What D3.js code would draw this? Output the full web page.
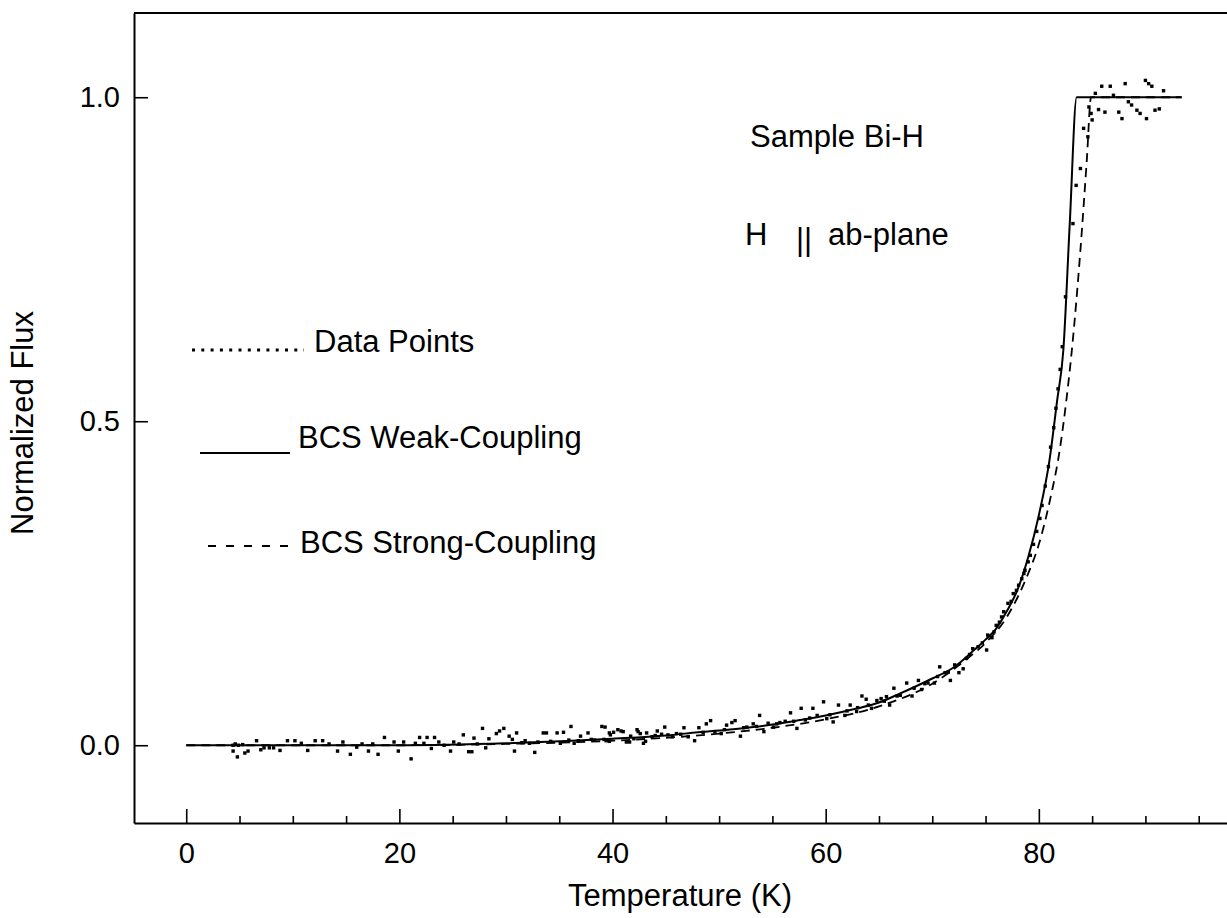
<!DOCTYPE html>
<head>
<meta charset="utf-8">
<style>
body { margin: 0; background: white; }
svg text { font-family: "Liberation Sans", Arial, Helvetica, sans-serif; fill: black; }
.axis path, .axis line { stroke: black; }
.axis path { stroke-width: 2px; }
.axis line { stroke-width: 1.6px; }
</style>
</head>
<body>
<div id="mainDiv" style="width: 1227px; height: 918px; background-color: white;">
<script src="https://d3js.org/d3.v7.min.js"></script>
<script>

var width = 1227;
var height = 918;

// axis ticks
var xMajorTicks = [0, 20, 40, 60, 80];
var xMinorTicks = [5, 10, 15, 25, 30, 35, 45, 50, 55, 65, 70, 75, 85, 90, 95];
var yTicks = [0, 0.5, 1.0];

// BCS weak coupling fit (solid)
var weakCoupling = [[0, 0], [20, 0], [30, 0.003], [40, 0.01], [45, 0.015], [48, 0.02], [52, 0.026],
  [55, 0.032], [57.6, 0.039], [60, 0.046], [63, 0.057], [65, 0.066], [67, 0.08], [70, 0.103],
  [72, 0.12], [74, 0.148], [75, 0.163], [76, 0.18], [77, 0.207], [78, 0.24], [79, 0.29],
  [80, 0.355], [81, 0.44], [81.7, 0.53], [82.3, 0.61], [82.9, 0.805], [83.55, 1.0], [93.4, 1.0]];

// BCS strong coupling fit (dashed)
var strongCoupling = [[0, 0], [20, 0], [30, 0.002], [40, 0.007], [50, 0.018], [55, 0.027],
  [60, 0.04], [65, 0.06], [70, 0.095], [73, 0.13], [75, 0.158], [77, 0.198], [78, 0.228],
  [79, 0.265], [80, 0.31], [81, 0.375], [82, 0.46], [82.6, 0.535], [83.1, 0.61], [83.9, 0.764],
  [84.5, 0.903], [84.9, 1.0], [93.4, 1.0]];

// measured points
var dataPoints = [[4.4, 0], [4.6, 0.002], [4.9, 0], [5.3, 0.001], [4.4, -0.009], [4.8, -0.018],
  [5.5, -0.012], [5.8, -0.009], [6.6, 0.007], [7.0, -0.007], [7.3, -0.004], [7.8, -0.004],
  [8.2, -0.004], [8.8, -0.008], [9.5, 0.007], [10.2, 0.007], [10.8, 0.003], [11.4, -0.008],
  [12.1, 0.007], [12.8, 0.007], [13.4, 0.002], [14.2, -0.009], [14.7, 0.005], [15.4, -0.014],
  [16.0, -0.003], [16.5, 0.002], [17.1, -0.009], [17.5, 0.002], [18.0, -0.014], [18.6, 0.012],
  [19.5, 0.005], [19.9, -0.009], [20.4, 0.005], [21.1, -0.021], [21.5, 0.003], [21.9, 0.012],
  [22.3, 0.003], [22.6, 0.012], [23.0, -0.005], [23.3, 0.012], [23.7, 0.005], [24.2, 0.0],
  [24.8, -0.009], [25.1, 0.005], [25.6, 0.002], [26.0, 0.016], [26.5, -0.01], [26.8, -0.01],
  [27.0, 0.011], [27.3, 0.002], [27.8, 0.026], [28.1, -0.004], [28.4, 0.01], [29.1, 0.018],
  [29.4, 0.022], [29.8, 0.026], [30.3, 0.014], [30.6, 0.009], [30.8, -0.009], [31.0, 0.019],
  [31.5, 0.004], [31.8, 0.007], [32.2, 0.003], [32.7, -0.011], [33.0, 0.005], [33.5, 0.019],
  [33.8, 0.019], [34.2, 0.006], [34.8, 0.019], [35.1, 0.003], [35.4, 0.02], [35.9, 0.008],
  [36.1, 0.029], [36.4, 0.003], [36.8, 0.007], [37.0, 0.014], [37.7, 0.019], [38.0, 0.009],
  [38.3, 0.008], [39.0, 0.029], [39.4, 0.007], [39.7, 0.019], [39.3, 0.028], [39.8, 0.016],
  [40.1, 0.02], [40.5, 0.024], [41.0, 0.021], [39.2, 0.009], [39.7, 0.006], [40.8, 0.022],
  [41.3, 0.005], [41.7, 0.014], [42.3, 0.024], [42.6, 0.018], [43.1, 0.006],
  [41.6, 0.005], [42.0, 0.010], [42.4, 0.021], [42.9, 0.003], [43.2, 0.019], [43.7, 0.013],
  [44.0, 0.015], [44.2, 0.022], [44.6, 0.017], [44.9, 0.028], [45.2, 0.016], [45.6, 0.013],
  [46.0, 0.018], [46.4, 0.017], [46.7, 0.027], [47.1, 0.013], [47.7, 0.007], [48.1, 0.027],
  [48.5, 0.02], [48.8, 0.033], [49.2, 0.038], [49.6, 0.021], [50.2, 0.018], [50.5, 0.024],
  [50.7, 0.031], [51.2, 0.035], [51.5, 0.038], [52.0, 0.014], [52.3, 0.027], [52.6, 0.028],
  [53.2, 0.033], [53.5, 0.029], [53.8, 0.046], [54.2, 0.021], [54.6, 0.034], [55.1, 0.028],
  [55.4, 0.033], [55.7, 0.035], [56.2, 0.037], [56.7, 0.050], [57.0, 0.037], [57.3, 0.026],
  [57.7, 0.057], [58.1, 0.039], [58.5, 0.042], [58.8, 0.057], [59.2, 0.046], [59.8, 0.067],
  [60.1, 0.041], [60.4, 0.047], [60.7, 0.036], [61.2, 0.062], [61.8, 0.046], [62.0, 0.053],
  [62.3, 0.062], [62.9, 0.052], [63.0, 0.058], [63.4, 0.076], [63.8, 0.071], [64.0, 0.062],
  [64.3, 0.057], [64.8, 0.069], [65.2, 0.072], [65.5, 0.068], [65.7, 0.075], [66.0, 0.062],
  [66.4, 0.088], [66.7, 0.076], [67.0, 0.077], [67.6, 0.096], [68.1, 0.076], [68.3, 0.088],
  [68.7, 0.100], [69.0, 0.086], [69.3, 0.095], [69.6, 0.096], [70.2, 0.096], [70.5, 0.106],
  [70.7, 0.121], [71.2, 0.112], [71.5, 0.113], [71.7, 0.100], [72.1, 0.124], [72.5, 0.112],
  [72.9, 0.118], [73.2, 0.134], [73.5, 0.14], [73.8, 0.149], [74.3, 0.152], [74.7, 0.158],
  [75.1, 0.147], [75.2, 0.170], [75.6, 0.166], [75.8, 0.175], [76.0, 0.185], [76.3, 0.19],
  [76.5, 0.198], [76.7, 0.206], [77.1, 0.219], [77.4, 0.222], [77.6, 0.234], [77.9, 0.239],
  [78.1, 0.247], [78.4, 0.257], [78.6, 0.265], [78.7, 0.270], [79.0, 0.283], [79.2, 0.293],
  [79.5, 0.31], [79.8, 0.33], [80.1, 0.35], [80.3, 0.37], [80.6, 0.40], [80.9, 0.43],
  [81.1, 0.46], [81.4, 0.49], [81.6, 0.52], [81.8, 0.55], [82.0, 0.58], [82.2, 0.615],
  [82.5, 0.692], [83.2, 0.805], [83.5, 0.864], [83.9, 0.890], [84.2, 0.952], [84.6, 0.939],
  [84.7, 0.985], [84.9, 0.975], [85.0, 0.965], [85.3, 1.006], [85.6, 0.981], [85.9, 1.017],
  [86.2, 0.977], [86.7, 1.017], [87.0, 1.003], [87.5, 0.977], [87.8, 0.967], [88.1, 1.021],
  [88.4, 0.993], [88.7, 0.988], [89.2, 0.980], [89.5, 0.975], [90.0, 1.026], [90.1, 0.967],
  [90.3, 1.021], [90.6, 1.017], [90.9, 0.980], [91.3, 0.982], [91.7, 1.010]];

var svg = d3.select("#mainDiv").append("svg")
    .attr("width", width)
    .attr("height", height);

// plot frame runs past the right edge of the page
var x = d3.scaleLinear().domain([-4.9, 100]).range([134, 1252]);
var y = d3.scaleLinear().domain([-0.12, 1.13]).range([823, 13]);

var tickFont = 29;
var textFont = 31;

// bottom axis, ticks pointing inward
svg.append("g")
    .attr("class", "axis")
    .attr("transform", "translate(0," + y.range()[0] + ")")
    .call(d3.axisBottom(x).tickValues(xMajorTicks).tickSize(-14).tickSizeOuter(0).tickPadding(19).tickFormat(d3.format("d")))
    .call(function(g) { g.selectAll("text").style("font-size", tickFont + "px").style("font-family", null); });

svg.append("g")
    .attr("class", "axis")
    .attr("transform", "translate(0," + y.range()[0] + ")")
    .call(d3.axisBottom(x).tickValues(xMinorTicks).tickSize(-7).tickSizeOuter(0).tickFormat(""))
    .call(function(g) { g.select(".domain").remove(); });

// left axis
svg.append("g")
    .attr("class", "axis")
    .attr("transform", "translate(" + x.range()[0] + ",0)")
    .call(d3.axisLeft(y).tickValues(yTicks).tickSize(-14).tickSizeOuter(0).tickPadding(14).tickFormat(d3.format(".1f")))
    .call(function(g) { g.selectAll("text").style("font-size", tickFont + "px").style("font-family", null); });

// top border
svg.append("line")
    .attr("x1", x.range()[0]).attr("x2", x.range()[1])
    .attr("y1", y.range()[1]).attr("y2", y.range()[1])
    .attr("stroke", "black")
    .attr("stroke-width", 2);

var line = d3.line()
    .x(function(d) { return x(d[0]); })
    .y(function(d) { return y(d[1]); })
    .curve(d3.curveMonotoneX);

svg.append("path")
    .datum(strongCoupling)
    .attr("d", line)
    .attr("fill", "none")
    .attr("stroke", "black")
    .attr("stroke-width", 1.8)
    .attr("stroke-dasharray", "9 6");

svg.append("path")
    .datum(weakCoupling)
    .attr("d", line)
    .attr("fill", "none")
    .attr("stroke", "black")
    .attr("stroke-width", 2);

svg.append("g").selectAll("rect")
    .data(dataPoints)
    .enter().append("rect")
    .attr("x", function(d) { return x(d[0]) - 1.7; })
    .attr("y", function(d) { return y(d[1]) - 1.7; })
    .attr("width", 3.4)
    .attr("height", 3.4)
    .attr("fill", "black");

// axis titles
svg.append("text")
    .attr("x", 680)
    .attr("y", 906)
    .attr("text-anchor", "middle")
    .style("font-size", textFont + "px")
    .text("Temperature (K)");

svg.append("text")
    .attr("transform", "translate(33,423) rotate(-90)")
    .attr("text-anchor", "middle")
    .style("font-size", textFont + "px")
    .text("Normalized Flux");

// annotations
svg.append("text").attr("x", 750).attr("y", 147).style("font-size", textFont + "px").text("Sample Bi-H");
svg.append("text").attr("x", 745).attr("y", 245).style("font-size", textFont + "px").text("H");
svg.append("text").attr("x", 796).attr("y", 250).style("font-size", textFont + "px").text("||");
svg.append("text").attr("x", 828).attr("y", 245).style("font-size", textFont + "px").text("ab-plane");

// legend
svg.append("line")
    .attr("x1", 192).attr("x2", 304).attr("y1", 350).attr("y2", 350)
    .attr("stroke", "black").attr("stroke-width", 3)
    .attr("stroke-dasharray", "3 6.3");
svg.append("text").attr("x", 314).attr("y", 352).style("font-size", textFont + "px").text("Data Points");

svg.append("line")
    .attr("x1", 200).attr("x2", 290).attr("y1", 453).attr("y2", 453)
    .attr("stroke", "black").attr("stroke-width", 2);
svg.append("text").attr("x", 298).attr("y", 448).style("font-size", textFont + "px").text("BCS Weak-Coupling");

svg.append("line")
    .attr("x1", 208).attr("x2", 290).attr("y1", 546).attr("y2", 546)
    .attr("stroke", "black").attr("stroke-width", 2)
    .attr("stroke-dasharray", "8 10");
svg.append("text").attr("x", 300).attr("y", 553).style("font-size", textFont + "px").text("BCS Strong-Coupling");

</script>
</div>
</body>
</html>
